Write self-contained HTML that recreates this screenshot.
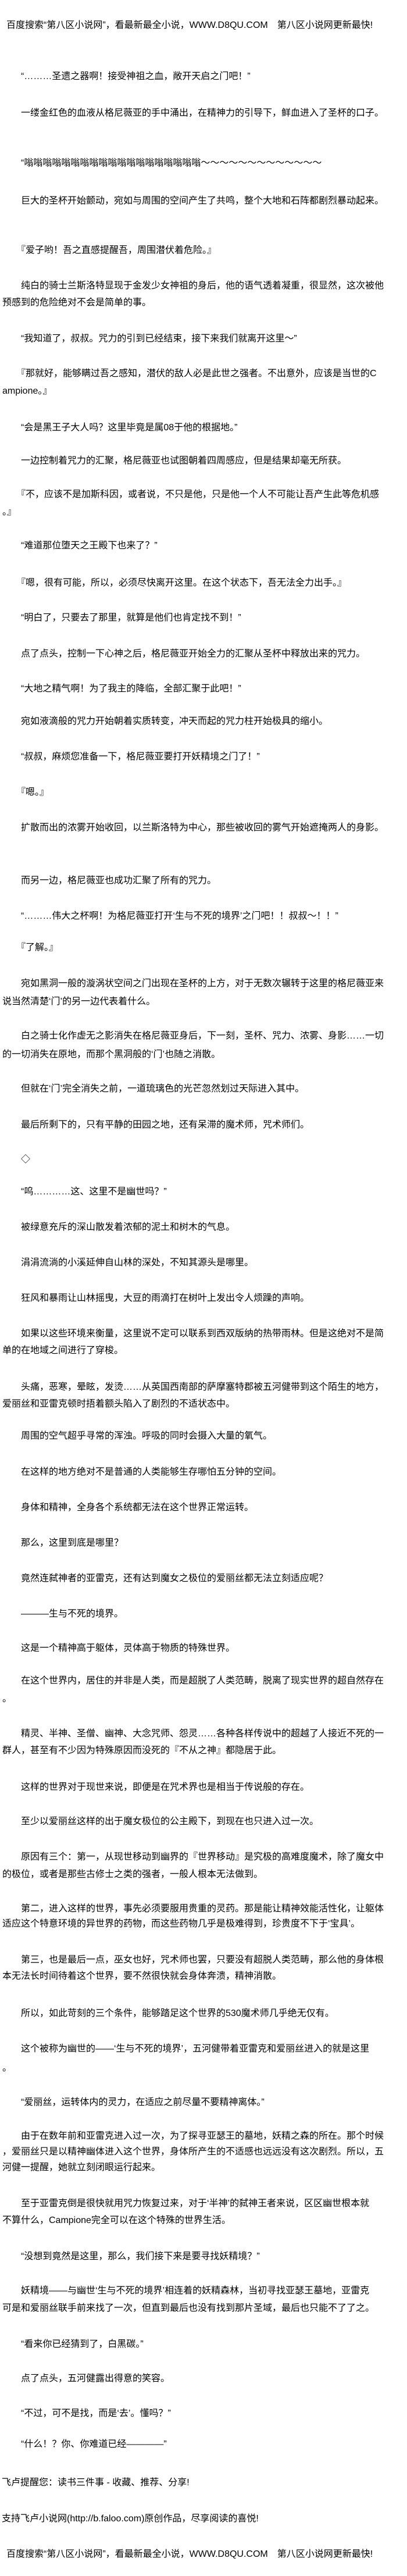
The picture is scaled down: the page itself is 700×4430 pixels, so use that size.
<!DOCTYPE html>
<html><head><meta charset="utf-8">
<style>
html,body{margin:0;padding:0;background:#fff;}
body{width:700px;height:4430px;position:relative;overflow:hidden;}
.p{position:absolute;left:4px;white-space:pre;font-family:"Liberation Sans","Noto Sans CJK SC",sans-serif;font-size:16px;line-height:30px;color:#000;}
</style></head><body>
<div class="p" style="top:29px;left:11px">百度搜索“第八区小说网”，看最新最全小说，WWW.D8QU.COM　第八区小说网更新最快!</div>
<div class="p" style="top:117px">　　“………圣遗之器啊！接受神祖之血，敞开天启之门吧！”</div>
<div class="p" style="top:180px">　　一缕金红色的血液从格尼薇亚的手中涌出，在精神力的引导下，鲜血进入了圣杯的口子。</div>
<div class="p" style="top:266px">　　“嗡嗡嗡嗡嗡嗡嗡嗡嗡嗡嗡嗡嗡嗡嗡嗡嗡嗡嗡～～～～～～～～～～～～～</div>
<div class="p" style="top:331px">　　巨大的圣杯开始颤动，宛如与周围的空间产生了共鸣，整个大地和石阵都剧烈暴动起来。</div>
<div class="p" style="top:416px">　　『爱子哟！吾之直感提醒吾，周围潜伏着危险。』</div>
<div class="p" style="top:477px;line-height:29px">　　纯白的骑士兰斯洛特显现于金发少女神祖的身后，他的语气透着凝重，很显然，这次被他
预感到的危险绝对不会是简单的事。</div>
<div class="p" style="top:568px">　　“我知道了，叔叔。咒力的引到已经结束，接下来我们就离开这里～”</div>
<div class="p" style="top:628px">　　『那就好，能够瞒过吾之感知，潜伏的敌人必是此世之强者。不出意外，应该是当世的C
ampione。』</div>
<div class="p" style="top:721px">　　“会是黑王子大人吗？这里毕竟是属08于他的根据地。”</div>
<div class="p" style="top:778px">　　一边控制着咒力的汇聚，格尼薇亚也试图朝着四周感应，但是结果却毫无所获。</div>
<div class="p" style="top:836px">　　『不，应该不是加斯科因，或者说，不只是他，只是他一个人不可能让吾产生此等危机感
。』</div>
<div class="p" style="top:924px">　　“难道那位堕天之王殿下也来了？”</div>
<div class="p" style="top:988px">　　『嗯，很有可能，所以，必须尽快离开这里。在这个状态下，吾无法全力出手。』</div>
<div class="p" style="top:1048px">　　“明白了，只要去了那里，就算是他们也肯定找不到！”</div>
<div class="p" style="top:1110px">　　点了点头，控制一下心神之后，格尼薇亚开始全力的汇聚从圣杯中释放出来的咒力。</div>
<div class="p" style="top:1170px">　　“大地之精气啊！为了我主的降临，全部汇聚于此吧！”</div>
<div class="p" style="top:1226px">　　宛如液滴般的咒力开始朝着实质转变，冲天而起的咒力柱开始极具的缩小。</div>
<div class="p" style="top:1287px">　　“叔叔，麻烦您准备一下，格尼薇亚要打开妖精境之门了！”</div>
<div class="p" style="top:1348px">　　『嗯。』</div>
<div class="p" style="top:1409px">　　扩散而出的浓雾开始收回，以兰斯洛特为中心，那些被收回的雾气开始遮掩两人的身影。</div>
<div class="p" style="top:1500px">　　而另一边，格尼薇亚也成功汇聚了所有的咒力。</div>
<div class="p" style="top:1561px">　　“………伟大之杯啊！为格尼薇亚打开‘生与不死的境界’之门吧！！叔叔～！！”</div>
<div class="p" style="top:1615px">　　『了解。』</div>
<div class="p" style="top:1676px;line-height:31px">　　宛如黑洞一般的漩涡状空间之门出现在圣杯的上方，对于无数次辗转于这里的格尼薇亚来
说当然清楚‘门’的另一边代表着什么。</div>
<div class="p" style="top:1766px;line-height:32px">　　白之骑士化作虚无之影消失在格尼薇亚身后，下一刻，圣杯、咒力、浓雾、身影……一切
的一切消失在原地，而那个黑洞般的‘门’也随之消散。</div>
<div class="p" style="top:1858px">　　但就在‘门’完全消失之前，一道琉璃色的光芒忽然划过天际进入其中。</div>
<div class="p" style="top:1920px">　　最后所剩下的，只有平静的田园之地，还有呆滞的魔术师，咒术师们。</div>
<div class="p" style="top:1980px">　　◇</div>
<div class="p" style="top:2035px">　　“呜…………这、这里不是幽世吗？”</div>
<div class="p" style="top:2096px">　　被绿意充斥的深山散发着浓郁的泥土和树木的气息。</div>
<div class="p" style="top:2157px">　　涓涓流淌的小溪延伸自山林的深处，不知其源头是哪里。</div>
<div class="p" style="top:2218px">　　狂风和暴雨让山林摇曳，大豆的雨滴打在树叶上发出令人烦躁的声响。</div>
<div class="p" style="top:2279px;line-height:29px">　　如果以这些环境来衡量，这里说不定可以联系到西双版纳的热带雨林。但是这绝对不是简
单的在地域之间进行了穿梭。</div>
<div class="p" style="top:2371px;line-height:29px">　　头痛，恶寒，晕眩，发烫……从英国西南部的萨摩塞特郡被五河健带到这个陌生的地方，
爱丽丝和亚雷克顿时捂着额头陷入了剧烈的不适状态中。</div>
<div class="p" style="top:2455px">　　周围的空气超乎寻常的浑浊。呼吸的同时会摄入大量的氧气。</div>
<div class="p" style="top:2517px">　　在这样的地方绝对不是普通的人类能够生存哪怕五分钟的空间。</div>
<div class="p" style="top:2578px">　　身体和精神，全身各个系统都无法在这个世界正常运转。</div>
<div class="p" style="top:2639px">　　那么，这里到底是哪里？</div>
<div class="p" style="top:2700px">　　竟然连弑神者的亚雷克，还有达到魔女之极位的爱丽丝都无法立刻适应呢？</div>
<div class="p" style="top:2761px">　　———生与不死的境界。</div>
<div class="p" style="top:2820px">　　这是一个精神高于躯体，灵体高于物质的特殊世界。</div>
<div class="p" style="top:2875px;line-height:31px">　　在这个世界内，居住的并非是人类，而是超脱了人类范畴，脱离了现实世界的超自然存在
。</div>
<div class="p" style="top:2967px;line-height:29px">　　精灵、半神、圣僧、幽神、大念咒师、怨灵……各种各样传说中的超越了人接近不死的一
群人，甚至有不少因为特殊原因而没死的『不从之神』都隐居于此。</div>
<div class="p" style="top:3059px">　　这样的世界对于现世来说，即便是在咒术界也是相当于传说般的存在。</div>
<div class="p" style="top:3118px">　　至少以爱丽丝这样的出于魔女极位的公主殿下，到现在也只进入过一次。</div>
<div class="p" style="top:3179px">　　原因有三个：第一，从现世移动到幽界的『世界移动』是究极的高难度魔术，除了魔女中
的极位，或者是那些古修士之类的强者，一般人根本无法做到。</div>
<div class="p" style="top:3270px;line-height:26px">　　第二，进入这样的世界，事先必须要服用贵重的灵药。那是能让精神效能活性化，让躯体
适应这个特意环境的异世界的药物，而这些药物几乎是极难得到，珍贵度不下于‘宝具’。</div>
<div class="p" style="top:3357px;line-height:28px">　　第三，也是最后一点，巫女也好，咒术师也罢，只要没有超脱人类范畴，那么他的身体根
本无法长时间待着这个世界，要不然很快就会身体奔溃，精神消散。</div>
<div class="p" style="top:3448px">　　所以，如此苛刻的三个条件，能够踏足这个世界的530魔术师几乎绝无仅有。</div>
<div class="p" style="top:3507px;line-height:33px">　　这个被称为幽世的——‘生与不死的境界’，五河健带着亚雷克和爱丽丝进入的就是这里
。</div>
<div class="p" style="top:3601px">　　“爱丽丝，运转体内的灵力，在适应之前尽量不要精神离体。”</div>
<div class="p" style="top:3660px;line-height:27px">　　由于在数年前和亚雷克进入过一次，为了探寻亚瑟王的墓地，妖精之森的所在。那个时候
，爱丽丝只是以精神幽体进入这个世界，身体所产生的不适感也远远没有这次剧烈。所以，五
河健一提醒，她就立刻闭眼运行起来。</div>
<div class="p" style="top:3775px;line-height:29px">　　至于亚雷克倒是很快就用咒力恢复过来，对于‘半神’的弑神王者来说，区区幽世根本就
不算什么，Campione完全可以在这个特殊的世界生活。</div>
<div class="p" style="top:3866px">　　“没想到竟然是这里，那么，我们接下来是要寻找妖精境？”</div>
<div class="p" style="top:3925px">　　妖精境——与幽世‘生与不死的境界’相连着的妖精森林，当初寻找亚瑟王墓地，亚雷克
可是和爱丽丝联手前来找了一次，但直到最后也没有找到那片圣域，最后也只能不了了之。</div>
<div class="p" style="top:4017px">　　“看来你已经猜到了，白黑碳。”</div>
<div class="p" style="top:4076px">　　点了点头，五河健露出得意的笑容。</div>
<div class="p" style="top:4136px">　　“不过，可不是找，而是‘去’。懂吗？”</div>
<div class="p" style="top:4189px">　　“什么！？你、你难道已经————”</div>
<div class="p" style="top:4255px;left:3px">飞卢提醒您：读书三件事 - 收藏、推荐、分享!</div>
<div class="p" style="top:4317px;left:3px">支持飞卢小说网(http://b.faloo.com)原创作品，尽享阅读的喜悦!</div>
<div class="p" style="top:4378px;left:11px">百度搜索“第八区小说网”，看最新最全小说，WWW.D8QU.COM　第八区小说网更新最快!</div>
</body></html>
